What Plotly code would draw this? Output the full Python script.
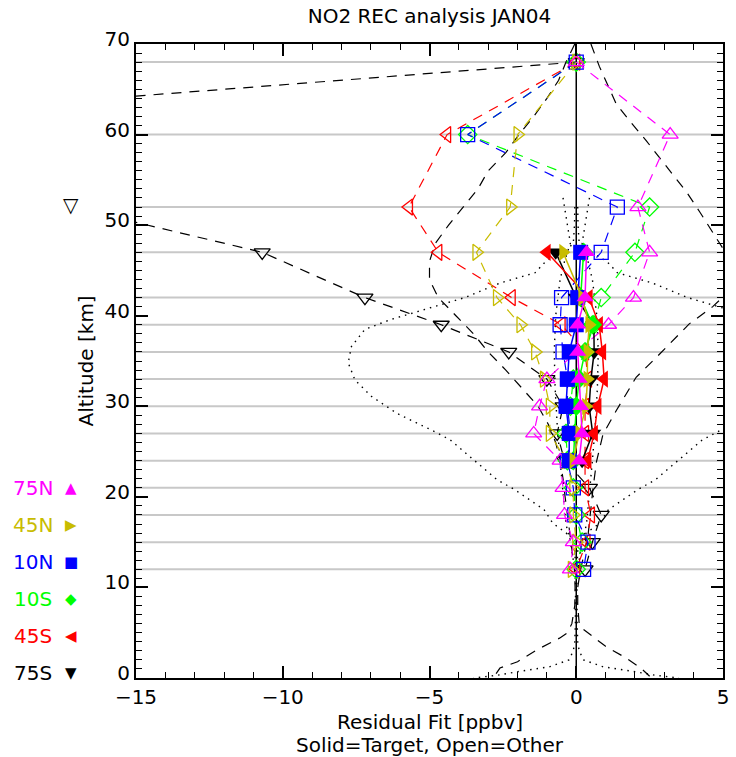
import plotly.graph_objects as go

# ---------------- data ----------------
regions = ["75N", "45N", "10N", "10S", "45S", "75S"]
colors = ["#ff00ff", "#c8bc00", "#0000ff", "#00ff00", "#ff0000", "#000000"]
symbols = ["triangle-up", "triangle-right", "square", "diamond", "triangle-left", "triangle-down"]
glyphs = ["▲", "▶", "■", "◆", "◀", "▼"]
open_glyphs = ["△", "▷", "□", "◇", "◁", "▽"]

x_range = [-15, 5]
y_range = [0, 70]
x_ticks = [-15, -10, -5, 0, 5]

grid_alts = [68, 60, 52, 47, 42, 39, 36, 33, 30, 27, 24, 21, 18, 15, 12]

# "Other" (open symbols, dashed)
alts_other = [68, 60, 52, 47, 42, 39, 36, 33, 30, 27, 24, 21, 18, 15, 12]
other_75N = [0.0, 3.2, 2.1, 2.5, 1.95, 1.1, 0.0, -1.0, -1.25, -1.45, -0.55, -0.45, -0.4, -0.1, -0.2]
other_45N = [0.0, -2.0, -2.25, -3.4, -2.7, -1.9, -1.4, -1.1, -0.9, -0.9, -0.35, -0.1, -0.1, 0.0, -0.15]
other_10N = [0.0, -3.7, 1.4, 0.85, -0.5, -0.55, -0.45, -0.3, -0.3, -0.2, -0.3, -0.1, -0.05, 0.4, 0.25]
other_10S = [0.0, -3.7, 2.5, 2.0, 0.85, 0.6, 0.3, -0.1, -0.2, -0.35, -0.3, -0.1, 0.0, 0.2, 0.0]
other_45S = [0.0, -4.4, -5.7, -4.7, -2.2, -0.5, 0.3, 0.4, 0.3, 0.3, 0.3, 0.3, 0.5, 0.35, 0.0]
other_75S = [0.0, -32.0, -17.2, -10.7, -7.2, -4.6, -2.3, -1.0, -0.45, -0.65, -0.4, 0.45, 0.85, 0.55, 0.3]

# "Target" (solid symbols, solid lines)
alts_target = [47, 42, 39, 36, 33, 30, 27, 24]
target_75N = [0.35, 0.3, 0.05, 0.05, 0.1, 0.15, 0.2, 0.1]
target_45N = [-0.45, 0.2, 0.44, 0.38, 0.38, 0.33, 0.1, -0.1]
target_10N = [0.15, 0.05, 0.0, -0.24, -0.3, -0.35, -0.24, -0.24]
target_10S = [0.25, 0.15, 0.55, 0.3, 0.1, 0.0, -0.05, -0.1]
target_45S = [-1.0, 0.43, 0.78, 0.89, 0.95, 0.73, 0.61, 0.39]
target_75S = [-0.7, 0.0, 0.6, 0.61, 0.5, 0.44, 0.56, 0.2]

# error envelopes
dash_left_alt = [70, 68, 66, 64, 62, 60, 58, 56, 54, 52, 50, 48, 46, 44, 42, 40, 38, 36, 34, 32,
                 30, 28, 26, 24, 22, 20, 18, 16, 14, 12, 10, 8, 6, 5, 4.4, 3.1, 1.8, 1.1, 0.4]
dash_left_x = [-0.05, -0.35, -0.6, -1.0, -1.45, -1.95, -2.4, -3.0, -3.35, -3.85, -4.35, -4.8, -5.0,
               -5.0, -4.7, -4.1, -3.5, -3.0, -2.4, -1.85, -1.3, -0.95, -0.7, -0.55, -0.45, -0.38,
               -0.3, -0.2, -0.12, -0.06, -0.04, -0.05, -0.15, -0.3, -0.57, -1.35, -2.0, -2.6, -2.75]
dash_right_alt = [70, 67.5, 63.4, 61.5, 59.3, 57.4, 55.5, 53.6, 51.4, 49.1, 46.9, 45, 43, 41, 39.1,
                  35.4, 33.2, 29.5, 26.9, 23.9, 20.9, 15.7, 12, 10, 8, 6, 5.4, 3.5, 2.2, 1.1, 0.2]
dash_right_x = [0.5, 0.79, 1.36, 1.82, 2.39, 2.85, 3.31, 3.77, 4.22, 4.68, 5.1, 5.4, 5.3, 4.65, 3.85,
                2.73, 2.04, 1.36, 0.91, 0.69, 0.57, 0.4, 0.15, 0.05, 0.05, 0.1, 0.23, 1.0, 1.7, 2.2, 2.5]

dot_alt = [52, 50, 48, 47, 46.5, 45.8, 44.75, 43.6, 42.0, 40.9, 39.6, 38.5, 36.6, 34.8, 32.9, 31.1,
           29.2, 27.4, 26.3, 24.1, 21.9, 20.8, 18.6, 17.1, 16.0, 15, 14, 12, 10, 8, 6, 4, 3, 2,
           1.25, 0.7, 0.3, 0.0]
dot_half = [0.05, 0.06, 0.1, 0.4, 0.8, 1.1, 1.4, 2.6, 3.8, 4.95, 6.3, 7.2, 7.66, 7.77, 7.54, 6.98,
            6.1, 4.95, 4.3, 3.5, 2.7, 2.1, 1.1, 0.8, 0.34, 0.15, 0.05, 0.02, 0.02, 0.02, 0.03, 0.05,
            0.1, 0.25, 0.9, 2.0, 2.7, 3.5]

small_dot_alt = [53, 50, 48, 46, 44, 40, 36, 32, 28, 24, 20, 17, 15, 13, 11]
small_dot_half = [0.45, 0.3, 0.2, 0.4, 0.55, 0.7, 0.75, 0.72, 0.65, 0.55, 0.45, 0.35, 0.2, 0.1, 0.05]

other_series = [other_75N, other_45N, other_10N, other_10S, other_45S, other_75S]
target_series = [target_75N, target_45N, target_10N, target_10S, target_45S, target_75S]

# ---------------- figure ----------------
FONT = "DejaVu Sans"
FS = 20
fig = go.Figure()

# envelopes
fig.add_trace(go.Scatter(x=dash_left_x, y=dash_left_alt, mode="lines",
                         line=dict(color="black", width=1.2, dash="10px,8px"), hoverinfo="skip"))
fig.add_trace(go.Scatter(x=dash_right_x, y=dash_right_alt, mode="lines",
                         line=dict(color="black", width=1.2, dash="10px,8px"), hoverinfo="skip"))
for sgn in (-1, 1):
    fig.add_trace(go.Scatter(x=[sgn * v for v in dot_half], y=dot_alt, mode="lines",
                             line=dict(color="black", width=1.4, dash="1.5px,5px"), hoverinfo="skip"))
    fig.add_trace(go.Scatter(x=[sgn * v for v in small_dot_half], y=small_dot_alt, mode="lines",
                             line=dict(color="black", width=1.4, dash="1.5px,5px"), hoverinfo="skip"))

# open symbols (Other)
for i in reversed(range(len(regions))):
    fig.add_trace(go.Scatter(
        x=other_series[i], y=alts_other, mode="lines+markers", name=regions[i] + " other",
        line=dict(color=colors[i], width=1.2, dash="10px,8px"),
        marker=dict(symbol=symbols[i] + "-open", size=14, color=colors[i], line=dict(width=1.3))))

# solid symbols (Target)
for i in reversed(range(len(regions))):
    fig.add_trace(go.Scatter(
        x=target_series[i], y=alts_target, mode="lines+markers", name=regions[i] + " target",
        line=dict(color=colors[i], width=1.5),
        marker=dict(symbol=symbols[i], size=15, color=colors[i], line=dict(width=0))))

shapes = []
for a in grid_alts:
    shapes.append(dict(type="line", xref="paper", x0=0, x1=1, yref="y", y0=a, y1=a,
                       line=dict(color="#c8c8c8", width=2), layer="below"))
shapes.append(dict(type="line", xref="x", x0=0, x1=0, yref="paper", y0=0, y1=1,
                   line=dict(color="black", width=1.5), layer="below"))

annotations = []
# open symbols that fall left of the axis range are still drawn (as in the original)
for i, ser in enumerate(other_series):
    for xv, av in zip(ser, alts_other):
        px = (xv - x_range[0]) / (x_range[1] - x_range[0])
        if -0.22 < px < 0:
            annotations.append(dict(text=open_glyphs[i], xref="paper", yref="y", x=px, y=av,
                                    showarrow=False, xanchor="center", yanchor="middle", yshift=2,
                                    font=dict(family=FONT, size=20, color=colors[i])))

for i, r in enumerate(regions):
    yp = 0.2997 - i * 0.0584
    annotations.append(dict(text=r, xref="paper", yref="paper", x=-0.1754, y=yp,
                            showarrow=False, font=dict(family=FONT, size=FS, color=colors[i]),
                            xanchor="center", yanchor="middle"))
    annotations.append(dict(text=glyphs[i], xref="paper", yref="paper", x=-0.1113, y=yp,
                            showarrow=False, font=dict(family=FONT, size=15, color=colors[i]),
                            xanchor="center", yanchor="middle"))
annotations.append(dict(text="Residual Fit [ppbv]", xref="paper", yref="paper", x=0.5, y=-0.0694,
                        showarrow=False, font=dict(family=FONT, size=FS, color="black"),
                        xanchor="center", yanchor="middle"))
annotations.append(dict(text="Solid=Target, Open=Other", xref="paper", yref="paper", x=0.5, y=-0.1057,
                        showarrow=False, font=dict(family=FONT, size=FS, color="black"),
                        xanchor="center", yanchor="middle"))
annotations.append(dict(text="Altitude [km]", xref="paper", yref="paper", x=-0.086, y=0.5,
                        textangle=-90, showarrow=False, font=dict(family=FONT, size=FS, color="black"),
                        xanchor="center", yanchor="middle"))

axis_common = dict(showgrid=False, zeroline=False, showline=True, linecolor="black", linewidth=2,
                   mirror="ticks", ticks="inside", ticklen=12, tickwidth=1.5, tickcolor="black",
                   tickfont=dict(family=FONT, size=FS, color="black"))

fig.update_layout(
    width=736, height=757,
    margin=dict(l=136, r=7, t=44, b=79),
    paper_bgcolor="white", plot_bgcolor="white",
    showlegend=False,
    title=dict(text="NO2 REC analysis JAN04", x=0.5, xref="paper", xanchor="center",
               y=1 - 16 / 757, yref="container", yanchor="middle",
               font=dict(family=FONT, size=FS, color="black")),
    xaxis=dict(range=x_range, tickmode="array", tickvals=x_ticks,
               minor=dict(dtick=1, ticks="inside", ticklen=6, tickcolor="black", tickwidth=1.2),
               **axis_common),
    yaxis=dict(range=y_range, tickmode="linear", tick0=0, dtick=10, ticklabelshift=-5,
               minor=dict(dtick=1, ticks="inside", ticklen=6, tickcolor="black", tickwidth=1.2),
               **axis_common),
    shapes=shapes,
    annotations=annotations,
)

fig.write_html("out.html")
